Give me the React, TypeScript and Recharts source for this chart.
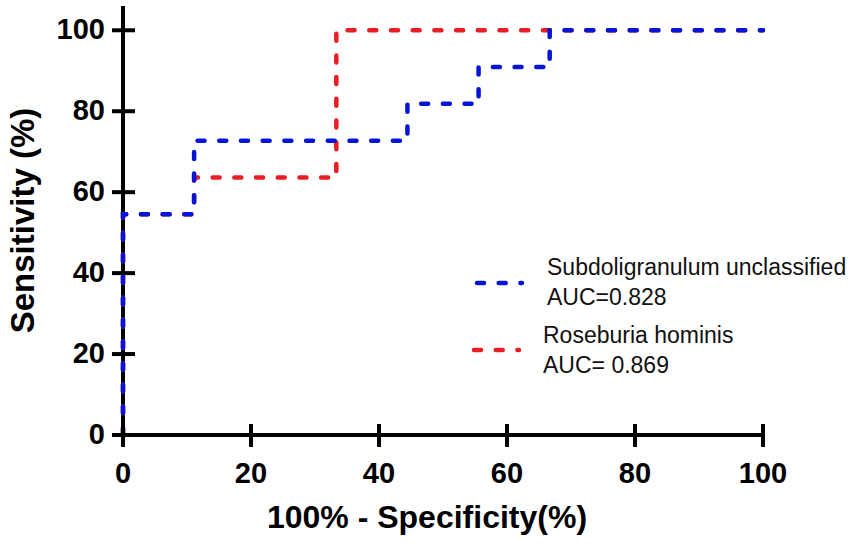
import React from "react";
import { LineChart, Line, XAxis, YAxis, Legend } from "recharts";

// ROC points (100% - specificity, sensitivity)
const FPR_SUBDO = [0, 0, 11.11, 11.11, 44.44, 44.44, 55.56, 55.56, 66.67, 66.67, 100];
const TPR_SUBDO = [0, 54.55, 54.55, 72.73, 72.73, 81.82, 81.82, 90.91, 90.91, 100, 100];
const FPR_ROSE = [0, 0, 11.11, 11.11, 33.33, 33.33, 100];
const TPR_ROSE = [0, 54.55, 54.55, 63.64, 63.64, 100, 100];

const X_TICKS = [0, 20, 40, 60, 80, 100];
const Y_TICKS = [0, 20, 40, 60, 80, 100];

const SERIES = [
  { name: "Subdoligranulum unclassified", auc: "AUC=0.828", color: "#0614d8" },
  { name: "Roseburia hominis", auc: "AUC= 0.869", color: "#ea1c24" },
];

const subdoData = FPR_SUBDO.map((x, i) => ({ fpr: x, tpr: TPR_SUBDO[i] }));
const roseData = FPR_ROSE.map((x, i) => ({ fpr: x, tpr: TPR_ROSE[i] }));

const FONT = "'Liberation Sans', Arial, Helvetica, sans-serif";
const DASH = "7 14.7";

function XTick({ x, y, payload }: any) {
  return (
    <g>
      <line x1={x} x2={x} y1={y - 11} y2={y + 12} stroke="#000" strokeWidth={4} />
      <text x={x} y={y + 48} textAnchor="middle" fontFamily={FONT} fontWeight="bold" fontSize={29} fill="#000">
        {payload.value}
      </text>
    </g>
  );
}

function YTick({ x, y, payload }: any) {
  return (
    <g>
      <line x1={x - 11} x2={x + 12} y1={y} y2={y} stroke="#000" strokeWidth={4} />
      <text x={x - 18} y={y + 9} textAnchor="end" fontFamily={FONT} fontWeight="bold" fontSize={29} fill="#000">
        {payload.value}
      </text>
    </g>
  );
}

function RocLegend() {
  return (
    <svg width={391} height={130} style={{ display: "block" }}>
      {SERIES.map((s, i) => {
        const lineY = i === 0 ? 33 : 100;
        const x0 = i === 0 ? 17 : 14;
        const tx = i === 0 ? 87 : 83;
        const ty = i === 0 ? 25 : 93;
        return (
          <g key={s.name}>
            <line x1={x0} x2={x0 + 45} y1={lineY} y2={lineY} stroke={s.color} strokeWidth={4.5}
              strokeDasharray={DASH} strokeLinecap="round" />
            <text x={tx} y={ty} fontFamily={FONT} fontSize={23} fill="#111">{s.name}</text>
            <text x={tx} y={ty + 30} fontFamily={FONT} fontSize={23} fill="#111">{s.auc}</text>
          </g>
        );
      })}
    </svg>
  );
}

export default function App() {
  return (
    <div style={{ position: "absolute", left: 0, top: 0, width: 851, height: 544, background: "#fff" }}>
      <LineChart width={851} height={544} margin={{ top: 6, right: 88, bottom: 0, left: 0 }}>
        <XAxis
          type="number"
          dataKey="fpr"
          domain={[0, 100]}
          ticks={X_TICKS}
          height={109}
          tickSize={0}
          tickMargin={0}
          tickLine={false}
          axisLine={{ stroke: "#000", strokeWidth: 4 }}
          tick={<XTick />}
          label={{
            content: ({ viewBox }: any) => (
              <text x={viewBox.x + viewBox.width / 2 - 16} y={viewBox.y + 93} textAnchor="middle"
                fontFamily={FONT} fontWeight="bold" fontSize={32} fill="#000">
                100% - Specificity(%)
              </text>
            ),
          }}
        />
        <YAxis
          type="number"
          domain={[0, 106]}
          ticks={Y_TICKS}
          width={123}
          tickSize={0}
          tickMargin={0}
          tickLine={false}
          axisLine={{ stroke: "#000", strokeWidth: 4 }}
          tick={<YTick />}
          label={{
            content: ({ viewBox }: any) => {
              const cx = 34;
              const cy = viewBox.y + viewBox.height / 2;
              return (
                <text x={cx} y={cy} transform={`rotate(-90 ${cx} ${cy})`} textAnchor="middle"
                  fontFamily={FONT} fontWeight="bold" fontSize={33} fill="#000">
                  Sensitivity (%)
                </text>
              );
            },
          }}
        />
        <Line data={roseData} dataKey="tpr" name={SERIES[1].name} type="linear" stroke={SERIES[1].color}
          strokeWidth={4.5} strokeDasharray={DASH} strokeLinecap="round" dot={false} activeDot={false}
          isAnimationActive={false} zIndex={600} />
        <Line data={subdoData} dataKey="tpr" name={SERIES[0].name} type="linear" stroke={SERIES[0].color}
          strokeWidth={4.5} strokeDasharray={DASH} strokeLinecap="round" dot={false} activeDot={false}
          isAnimationActive={false} zIndex={610} />
        <Legend layout="horizontal" align="center" verticalAlign="middle" content={<RocLegend />}
          wrapperStyle={{ left: 460, top: 250, width: 391, height: 130 }} />
      </LineChart>
    </div>
  );
}
